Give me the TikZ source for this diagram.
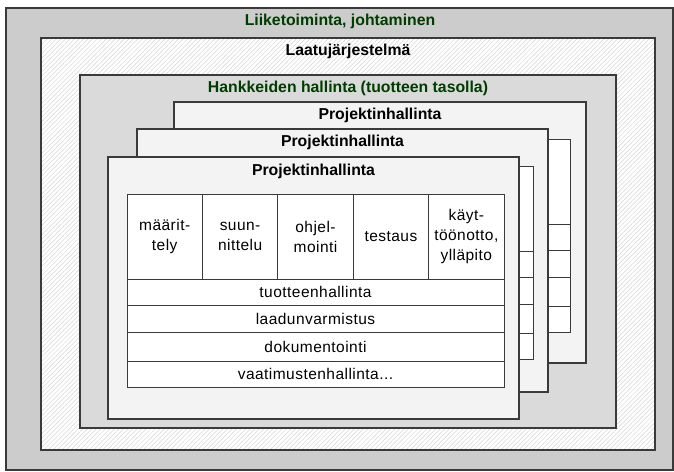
\documentclass[tikz,border=0pt]{standalone}
\usepackage{fontspec}
\setmainfont{Liberation Sans}
\usetikzlibrary{patterns.meta}

\definecolor{outerfill}{HTML}{CCCCCC}
\definecolor{hankfill}{HTML}{DADADA}
\definecolor{projfill}{HTML}{F3F3F3}
\definecolor{hatchline}{HTML}{D6D6D6}
\definecolor{boxline}{HTML}{3A3A3A}
\definecolor{titlegreen}{HTML}{003C00}

\tikzset{
  panel/.style={draw=boxline, line width=1.2pt, anchor=north west,
    inner sep=0pt, outer sep=0pt},
  cell/.style={draw=boxline, line width=0.8pt, fill=white, anchor=north west,
    inner sep=0pt, outer sep=0pt, align=center,
    font=\addfontfeatures{LetterSpace=3}\fontsize{15.5}{20}\selectfont},
  heading/.style={font=\bfseries\fontsize{15.8}{18}\selectfont, anchor=center},
  % outline of the work-phase table of a project box (no labels)
  pics/stagegrid/.style={code={
    \draw[draw=boxline, line width=0.8pt, fill=white] (0,0) rectangle (377,193);
    \foreach \yy in {85,111,138,167}
      \draw[draw=boxline, line width=0.8pt] (0,\yy) -- (377,\yy);
    \foreach \xx in {75.4,150.8,226.2,301.6}
      \draw[draw=boxline, line width=0.8pt] (\xx,0) -- (\xx,85);
  }}
}

\begin{document}
\begin{tikzpicture}[x=1pt,y=-1pt]
\useasboundingbox (0,0) rectangle (674,471);

% business level
\node[panel, fill=outerfill, minimum width=667pt, minimum height=462pt] (biz) at (6,8) {};
\node[heading, text=titlegreen] (bizT) at (340,21) {Liiketoiminta, johtaminen};

% quality system
\node[panel, preaction={fill=white},
  pattern={Lines[angle=45,distance=3.2pt,line width=0.5pt]}, pattern color=hatchline,
  minimum width=614pt, minimum height=412pt] (qs) at (41,38) {};
\node[heading] (qsT) at (348,51) {Laatujärjestelmä};

% product-level project management
\node[panel, fill=hankfill, minimum width=536pt, minimum height=353pt] (hank) at (80,75) {};
\node[heading, text=titlegreen] (hankT) at (348,88) {Hankkeiden hallinta (tuotteen tasolla)};

% third project (back)
\node[panel, fill=projfill, minimum width=412pt, minimum height=261pt] (p3) at (174,102) {};
\node[heading] (p3T) at (380,115) {Projektinhallinta};
\pic at (193,139) {stagegrid};

% second project
\node[panel, fill=projfill, minimum width=411pt, minimum height=263pt] (p2) at (137,129) {};
\node[heading] (p2T) at (342.5,142) {Projektinhallinta};
\pic at (156,166) {stagegrid};

% first project (front)
\node[panel, fill=projfill, minimum width=411pt, minimum height=262pt] (p1) at (108,157) {};
\node[heading] (p1T) at (313.5,171) {Projektinhallinta};

% work phases
\node[cell, minimum width=75.4pt, minimum height=85pt] (c1) at (127,194) {määrit-\\tely};
\node[cell, minimum width=75.4pt, minimum height=85pt] (c2) at (c1.north east) {suun-\\nittelu};
\node[cell, minimum width=75.4pt, minimum height=85pt] (c3) at (c2.north east) {ohjel-\\mointi};
\node[cell, minimum width=75.4pt, minimum height=85pt] (c4) at (c3.north east) {testaus};
\node[cell, minimum width=75.4pt, minimum height=85pt] (c5) at (c4.north east) {käyt-\\töönotto,\\ylläpito};

% supporting activities
\node[cell, minimum width=377pt, minimum height=26pt] (r1) at (c1.south west) {tuotteenhallinta};
\node[cell, minimum width=377pt, minimum height=27pt] (r2) at (r1.south west) {laadunvarmistus};
\node[cell, minimum width=377pt, minimum height=29pt] (r3) at (r2.south west) {dokumentointi};
\node[cell, minimum width=377pt, minimum height=26pt] (r4) at (r3.south west) {vaatimustenhallinta...};
\end{tikzpicture}
\end{document}
